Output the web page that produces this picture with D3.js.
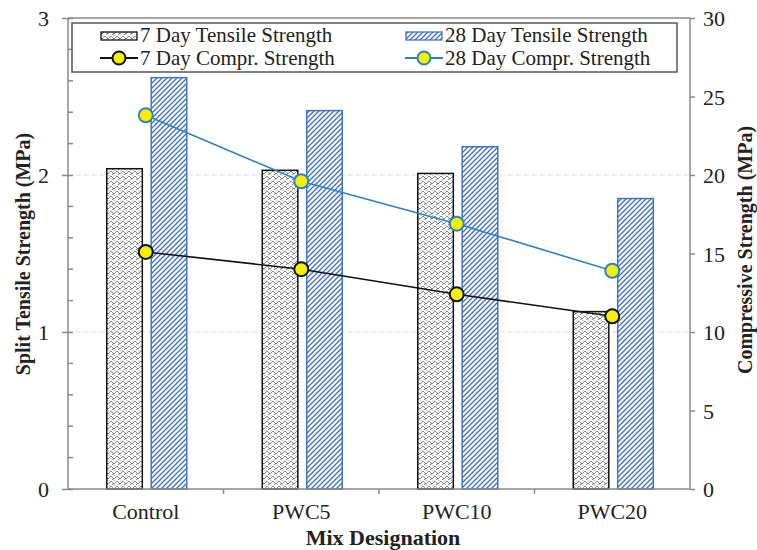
<!DOCTYPE html>
<html>
  <head>
    <meta charset="UTF-8"/>
    <script src="https://d3js.org/d3.v7.min.js"></script>
    <style>
      body{ margin:0; background:#fff; }
      text{ font-family:'Liberation Serif','Times New Roman',serif; fill:#222; }
      .title{ font-weight:bold; font-size:20px; }
    </style>
  </head>
  <body>
    <script>
      const mixes = ['Control', 'PWC5', 'PWC10', 'PWC20'];
      const tensile7 = [2.04, 2.03, 2.01, 1.13];
      const tensile28 = [2.62, 2.41, 2.18, 1.85];
      const compr7 = [15.1, 14.0, 12.4, 11.0];
      const compr28 = [23.8, 19.6, 16.9, 13.9];
      const leftTicks = [0, 1, 2, 3];
      const rightTicks = [0, 5, 10, 15, 20, 25, 30];

      const width = 757, height = 550;
      const plotLeft = 68, plotRight = 690, plotTop = 18, plotBottom = 489;
      const axisColor = '#8a8a8a';
      const blue = '#4472c4';
      const lineBlue = '#2f80c8';

      const svg = d3.select('body').append('svg')
        .attr('width', width).attr('height', height);

      const defs = svg.append('defs');
      // 7 day pattern: small zigzag weave
      const p7 = defs.append('pattern').attr('id','p7')
        .attr('patternUnits','userSpaceOnUse').attr('width',6).attr('height',5);
      p7.append('rect').attr('width',6).attr('height',5).attr('fill','#fff');
      p7.append('path').attr('d','M0,4 L3,1 L6,4 M0,-1 L3,-4 M3,6 L6,3')
        .attr('stroke','#555').attr('stroke-width',0.7).attr('fill','none');
      p7.append('path').attr('d','M0,1.5 L1.5,0 M4.5,5 L6,3.5')
        .attr('stroke','#777').attr('stroke-width',0.6).attr('fill','none');
      // 28 day pattern: blue diagonal lines
      const p28 = defs.append('pattern').attr('id','p28')
        .attr('patternUnits','userSpaceOnUse').attr('width',5).attr('height',5);
      p28.append('rect').attr('width',5).attr('height',5).attr('fill','#fff');
      p28.append('path').attr('d','M-1,6 L6,-1 M-2,2 L2,-2 M3,7 L7,3')
        .attr('stroke',blue).attr('stroke-width',1.4);

      const x = d3.scaleBand().domain(mixes).range([plotLeft, plotRight]);
      const xs = d3.scaleBand().domain(['7','28']).range([-39, 41]).paddingInner(0.2);
      const yL = d3.scaleLinear().domain([0, 3]).range([plotBottom, plotTop]);
      const yR = d3.scaleLinear().domain([0, 30]).range([plotBottom, plotTop]);
      const cx = (m) => x(m) + x.bandwidth() / 2;

      // gridlines
      svg.append('g').selectAll('line').data([1, 2]).enter().append('line')
        .attr('x1', plotLeft).attr('x2', plotRight)
        .attr('y1', d => yL(d)).attr('y2', d => yL(d))
        .attr('stroke','#dcdcdc').attr('stroke-dasharray','5,3');

      // bars
      const rows = mixes.map((m, i) => ({m: m, t7: tensile7[i], t28: tensile28[i]}));
      svg.append('g').selectAll('rect').data(rows).enter().append('rect')
        .attr('x', d => cx(d.m) + xs('7')).attr('width', xs.bandwidth())
        .attr('y', d => yL(d.t7)).attr('height', d => plotBottom - yL(d.t7))
        .attr('fill','url(#p7)').attr('stroke','#111').attr('stroke-width',1.5);
      svg.append('g').selectAll('rect').data(rows).enter().append('rect')
        .attr('x', d => cx(d.m) + xs('28')).attr('width', xs.bandwidth())
        .attr('y', d => yL(d.t28)).attr('height', d => plotBottom - yL(d.t28))
        .attr('fill','url(#p28)').attr('stroke',blue).attr('stroke-width',1.5);

      // axes
      const yAxisL = d3.axisLeft(yL).tickValues(leftTicks).tickSize(6).tickFormat(d3.format('d'));
      const gL = svg.append('g').attr('transform','translate(' + plotLeft + ',0)').call(yAxisL);
      gL.selectAll('.tick line').attr('x2', 5).attr('x1', -6);
      const minor = d3.range(0, 3.01, 0.2).filter(v => Math.abs(v - Math.round(v)) > 0.01);
      gL.selectAll('.minor').data(minor).enter().append('line').attr('class','minor')
        .attr('x1', 0).attr('x2', 5).attr('y1', d => yL(d)).attr('y2', d => yL(d));

      const yAxisR = d3.axisRight(yR).tickValues(rightTicks).tickSize(5);
      const gR = svg.append('g').attr('transform','translate(' + plotRight + ',0)').call(yAxisR);

      const xAxis = d3.axisBottom(x).tickSize(0).tickPadding(26);
      const gX = svg.append('g').attr('transform','translate(0,' + plotBottom + ')').call(xAxis);
      gX.selectAll('.bound').data(mixes.slice(1)).enter().append('line').attr('class','bound')
        .attr('x1', d => x(d)).attr('x2', d => x(d)).attr('y1', 0).attr('y2', 5);

      svg.append('line').attr('class','frame')
        .attr('x1', plotLeft).attr('x2', plotRight).attr('y1', plotTop).attr('y2', plotTop);

      svg.selectAll('.domain, .tick line, .minor, .bound, .frame')
        .attr('stroke', axisColor).attr('stroke-width', 1.5);
      [gL, gR, gX].forEach(g => g.selectAll('.tick text')
        .style('font-family',"'Liberation Serif',serif").style('font-size','22px').attr('fill','#333'));
      gL.selectAll('.tick text').attr('x', -19).attr('dy','0.35em');
      gR.selectAll('.tick text').attr('x', 13).attr('dy','0.35em');
      gX.selectAll('.tick text').attr('dy','0.2em');
      gL.select('.domain').attr('d','M0,' + plotTop + 'V' + plotBottom);
      gR.select('.domain').attr('d','M0,' + plotTop + 'V' + plotBottom);
      gX.select('.domain').attr('d','M' + plotLeft + ',0H' + plotRight);

      // lines
      const line7 = d3.line().x((d, i) => cx(mixes[i])).y(d => yR(d));
      svg.append('path').datum(compr7).attr('d', line7)
        .attr('fill','none').attr('stroke','#111').attr('stroke-width',1.6);
      svg.append('path').datum(compr28).attr('d', line7)
        .attr('fill','none').attr('stroke',lineBlue).attr('stroke-width',1.6);
      svg.append('g').selectAll('circle').data(compr28).enter().append('circle')
        .attr('cx', (d, i) => cx(mixes[i])).attr('cy', d => yR(d)).attr('r', 7)
        .attr('fill','#f4f000').attr('stroke',lineBlue).attr('stroke-width',2);
      svg.append('g').selectAll('circle').data(compr7).enter().append('circle')
        .attr('cx', (d, i) => cx(mixes[i])).attr('cy', d => yR(d)).attr('r', 7)
        .attr('fill','#f4f000').attr('stroke','#111').attr('stroke-width',2);

      // axis titles
      svg.append('text').attr('class','title')
        .attr('transform','translate(30,254) rotate(-90)')
        .attr('text-anchor','middle').text('Split Tensile Strength (MPa)');
      svg.append('text').attr('class','title')
        .attr('transform','translate(752,250) rotate(-90)')
        .attr('text-anchor','middle').text('Compressive Strength (MPa)');
      svg.append('text').attr('x', 383).attr('y', 545)
        .attr('text-anchor','middle').style('font-weight','bold').style('font-size','22px')
        .text('Mix Designation');

      // legend
      const lg = svg.append('g');
      lg.append('rect').attr('x', 72).attr('y', 23).attr('width', 605).attr('height', 49)
        .attr('fill','#fff').attr('stroke','#555').attr('stroke-width',1.5);
      const items = [
        {name:'7 Day Tensile Strength', kind:'bar', fill:'url(#p7)', stroke:'#111', x:100, y:42},
        {name:'28 Day Tensile Strength', kind:'bar', fill:'url(#p28)', stroke:blue, x:405, y:42},
        {name:'7 Day Compr. Strength', kind:'line', stroke:'#111', x:100, y:65},
        {name:'28 Day Compr. Strength', kind:'line', stroke:lineBlue, x:405, y:65}
      ];
      items.forEach(it => {
        if (it.kind === 'bar') {
          lg.append('rect').attr('x', it.x + 1).attr('y', it.y - 10).attr('width', 36).attr('height', 8)
            .attr('fill', it.fill).attr('stroke', it.stroke).attr('stroke-width', 1.3);
        } else {
          lg.append('line').attr('x1', it.x).attr('x2', it.x + 38).attr('y1', it.y - 7).attr('y2', it.y - 7)
            .attr('stroke', it.stroke).attr('stroke-width', 1.8);
          lg.append('circle').attr('cx', it.x + 19).attr('cy', it.y - 7).attr('r', 6.5)
            .attr('fill','#f4f000').attr('stroke', it.stroke).attr('stroke-width', 2);
        }
        lg.append('text').attr('x', it.x + 40).attr('y', it.y)
          .style('font-size','21px').text(it.name);
      });
    </script>
  </body>
</html>
